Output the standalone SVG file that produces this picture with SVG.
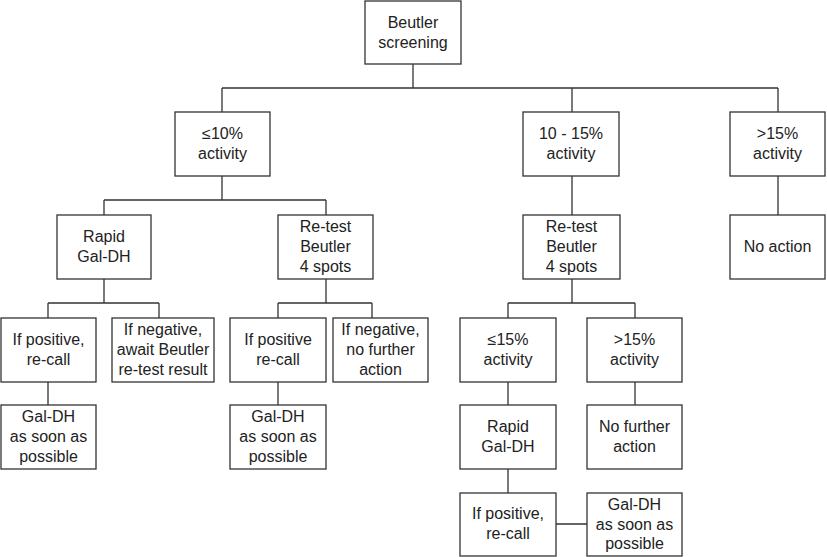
<svg xmlns="http://www.w3.org/2000/svg" width="827" height="557" viewBox="0 0 827 557">
<style>
rect{fill:#fff;stroke:#333;stroke-width:1.3}
text{font-family:"Liberation Sans",Arial,sans-serif;font-size:16px;fill:#222;text-anchor:middle}
#connectors path{fill:none;stroke:#333;stroke-width:1.3}
</style>
<rect x="0" y="0" width="827" height="557" style="fill:#fff;stroke:none"/>
<g id="connectors">
<path d="M413,64V88M222,88H778M222,88V112M572,88V112M778,88V112"/>
<path d="M222,176V200M104,200H326M104,200V215M326,200V215"/>
<path d="M572,176V215M778,176V215"/>
<path d="M104,279V303M48,303H159M48,303V318M159,303V318"/>
<path d="M326,279V303M278,303H372M278,303V318M372,303V318"/>
<path d="M572,279V303M508,303H635M508,303V318M635,303V318"/>
<path d="M48,382V405M278,382V405M508,382V405M635,382V405"/>
<path d="M508,469V493M556,524H587"/>
</g>
<g id="root"><rect x="365" y="1" width="96" height="63"/><text x="413" y="28">Beutler</text><text x="413" y="48">screening</text></g>
<g id="le10"><rect x="175" y="112" width="95" height="64"/><text x="222.5" y="139">≤10%</text><text x="222.5" y="159">activity</text></g>
<g id="mid"><rect x="523" y="112" width="96" height="64"/><text x="571" y="139">10 - 15%</text><text x="571" y="159">activity</text></g>
<g id="gt15"><rect x="730" y="112" width="95" height="64"/><text x="777.5" y="139">&gt;15%</text><text x="777.5" y="159">activity</text></g>
<g id="rapid1"><rect x="57" y="215" width="94" height="64"/><text x="104" y="242">Rapid</text><text x="104" y="262">Gal-DH</text></g>
<g id="retest1"><rect x="278" y="215" width="95" height="64"/><text x="325.5" y="232">Re-test</text><text x="325.5" y="252">Beutler</text><text x="325.5" y="272">4 spots</text></g>
<g id="retest2"><rect x="523" y="215" width="97" height="64"/><text x="571.5" y="232">Re-test</text><text x="571.5" y="252">Beutler</text><text x="571.5" y="272">4 spots</text></g>
<g id="noaction"><rect x="730" y="215" width="95" height="64"/><text x="777.5" y="252">No action</text></g>
<g id="pos1"><rect x="1" y="318" width="95" height="64"/><text x="48.5" y="345">If positive,</text><text x="48.5" y="365">re-call</text></g>
<g id="neg1"><rect x="112" y="318" width="102" height="64"/><text x="163" y="335">If negative,</text><text x="163" y="355">await Beutler</text><text x="163" y="375">re-test result</text></g>
<g id="pos2"><rect x="230" y="318" width="96" height="64"/><text x="278" y="345">If positive</text><text x="278" y="365">re-call</text></g>
<g id="neg2"><rect x="333" y="318" width="95" height="64"/><text x="380.5" y="335">If negative,</text><text x="380.5" y="355">no further</text><text x="380.5" y="375">action</text></g>
<g id="le15"><rect x="460" y="318" width="96" height="64"/><text x="508" y="345">≤15%</text><text x="508" y="365">activity</text></g>
<g id="gt15b"><rect x="587" y="318" width="95" height="64"/><text x="634.5" y="345">&gt;15%</text><text x="634.5" y="365">activity</text></g>
<g id="galdh1"><rect x="1" y="405" width="95" height="64"/><text x="48.5" y="422">Gal-DH</text><text x="48.5" y="442">as soon as</text><text x="48.5" y="462">possible</text></g>
<g id="galdh2"><rect x="230" y="405" width="96" height="64"/><text x="278" y="422">Gal-DH</text><text x="278" y="442">as soon as</text><text x="278" y="462">possible</text></g>
<g id="rapid2"><rect x="460" y="405" width="96" height="64"/><text x="508" y="432">Rapid</text><text x="508" y="452">Gal-DH</text></g>
<g id="nofurther"><rect x="587" y="405" width="95" height="64"/><text x="634.5" y="432">No further</text><text x="634.5" y="452">action</text></g>
<g id="pos3"><rect x="460" y="493" width="96" height="63"/><text x="508" y="519">If positive,</text><text x="508" y="539">re-call</text></g>
<g id="galdh3"><rect x="587" y="493" width="95" height="63"/><text x="634.5" y="510">Gal-DH</text><text x="634.5" y="530">as soon as</text><text x="634.5" y="549">possible</text></g>
</svg>
